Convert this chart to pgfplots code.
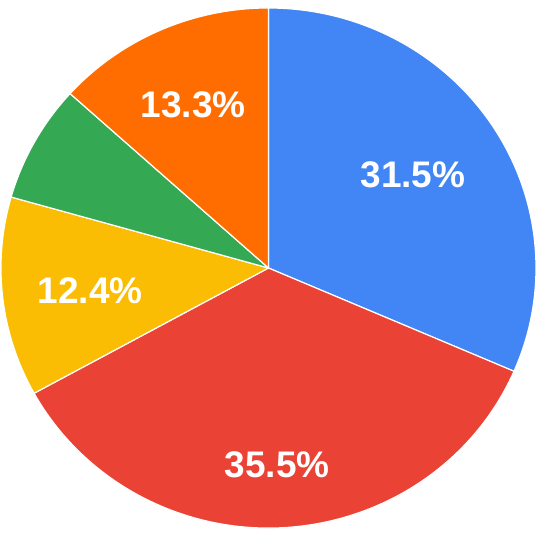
\documentclass[border=0pt]{standalone}
\usepackage{pgfplots}
\pgfplotsset{compat=1.18}
\usepackage{fontspec}
\setmainfont{Liberation Sans}
\definecolor{gblue}{HTML}{4285F4}
\definecolor{gred}{HTML}{EA4335}
\definecolor{gyellow}{HTML}{FBBC04}
\definecolor{ggreen}{HTML}{34A853}
\definecolor{gorange}{HTML}{FF6D01}
\begin{document}
\begin{tikzpicture}
\begin{axis}[
  x=133.75pt, y=130pt,
  xmin=-1.0037, xmax=1.0299,
  ymin=-1.0346, ymax=1.0308,
  hide axis, clip=false,
  every axis plot/.append style={draw=white, line width=0.6pt, line join=round},
]
% slices: 31.5%, 35.5%, 12.4%, 7.3%, 13.3% (clockwise from top)
\addplot[fill=gblue] coordinates {(0,0) (0,1)} arc[start angle=90, end angle=-23.4, x radius=133.75pt, y radius=130pt] -- cycle;
\addplot[fill=gred] coordinates {(0,0) (0.91775,-0.39715)} arc[start angle=-23.4, end angle=-151.2, x radius=133.75pt, y radius=130pt] -- cycle;
\addplot[fill=gyellow] coordinates {(0,0) (-0.87631,-0.48175)} arc[start angle=-151.2, end angle=-195.84, x radius=133.75pt, y radius=130pt] -- cycle;
\addplot[fill=ggreen] coordinates {(0,0) (-0.96203,0.27294)} arc[start angle=164.16, end angle=137.88, x radius=133.75pt, y radius=130pt] -- cycle;
\addplot[fill=gorange] coordinates {(0,0) (-0.74168,0.67078)} arc[start angle=137.88, end angle=90, x radius=133.75pt, y radius=130pt] -- cycle;
\begin{scope}[every node/.style={text=white, font=\fontsize{18.5}{20}\selectfont\bfseries}]
\node at (axis cs:0.540,0.358) {31.5\%};
\node at (axis cs:0.032,-0.758) {35.5\%};
\node at (axis cs:-0.667,-0.088) {12.4\%};
\node at (axis cs:-0.282,0.627) {13.3\%};
\end{scope}
\coordinate (SW) at (rel axis cs:0,0);
\coordinate (NE) at (rel axis cs:1,1);
\end{axis}
\pgfresetboundingbox
\useasboundingbox (SW) rectangle (NE);
\end{tikzpicture}
\end{document}
